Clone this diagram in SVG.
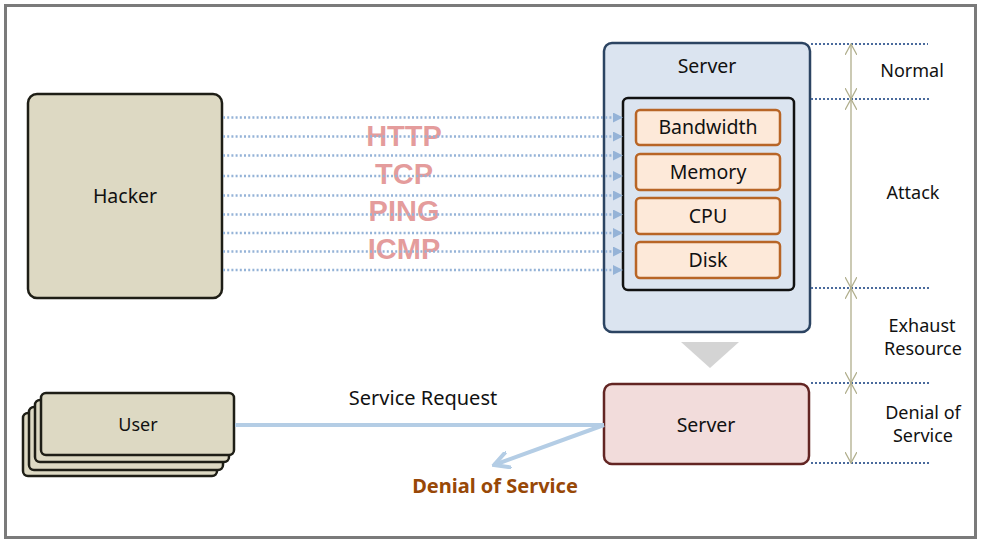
<svg xmlns="http://www.w3.org/2000/svg" width="981" height="543" viewBox="0 0 981 543">
<style>
text{font-family:"Noto Sans","Liberation Sans",sans-serif;fill:#111;text-anchor:middle}
.lbl{font-size:18px}
.big{font-size:19.5px}
.proto{font-family:"Liberation Sans",Arial,sans-serif;font-weight:bold;font-size:29px;fill:#e08a8a;fill-opacity:0.85}
.atk{stroke:#95b3d7;stroke-width:2.5;stroke-dasharray:2 2.2;fill:none}
.lvl{stroke:#4a6a9c;stroke-width:2;stroke-dasharray:2 2;fill:none}
.res{fill:#fde9d9;stroke:#b86526;stroke-width:2.5}
.usr{fill:#ddd9c3;stroke:#1e1e16;stroke-width:2.5}
</style>
<defs>
<marker id="ah" viewBox="0 0 10 10" refX="9" refY="5" markerWidth="10" markerHeight="10" markerUnits="userSpaceOnUse" orient="auto">
<path d="M0,0 L10,5 L0,10 z" fill="#95b3d7"/>
</marker>
<marker id="chev" viewBox="0 0 12 12" refX="11" refY="6" markerWidth="12" markerHeight="12" markerUnits="userSpaceOnUse" orient="auto-start-reverse">
<path d="M0,0 L11,6 L0,12" fill="none" stroke="#b0ae8c" stroke-width="1.3"/>
</marker>
<marker id="open" viewBox="0 0 16 16" refX="14" refY="8" markerWidth="18" markerHeight="18" markerUnits="userSpaceOnUse" orient="auto">
<path d="M1,1 L14,8 L1,15" fill="none" stroke="#b4cde5" stroke-width="3.5" stroke-linecap="round"/>
</marker>
</defs>
<rect x="0" y="0" width="981" height="543" fill="#fff"/>
<rect x="5.5" y="5.5" width="970" height="532" fill="#fff" stroke="#7a7a7a" stroke-width="3"/>

<g id="hacker">
<rect x="28" y="94" width="194" height="204" rx="9" fill="#ddd9c3" stroke="#1e1e16" stroke-width="2.5"/>
<text class="big" x="125" y="203">Hacker</text>
</g>

<g id="protocols">
<text class="proto" x="404" y="146">HTTP</text>
<text class="proto" x="404" y="184">TCP</text>
<text class="proto" x="404" y="221">PING</text>
<text class="proto" x="404" y="259">ICMP</text>
</g>

<g id="server-top">
<rect x="604" y="43" width="206" height="289" rx="8" fill="#dbe4f0" stroke="#2c4462" stroke-width="2.5"/>
<text class="big" x="707" y="73">Server</text>
<rect x="623" y="98" width="171" height="192" rx="5" fill="#dbe4f0" stroke="#111" stroke-width="2.5"/>
</g>
<g id="bandwidth"><rect class="res" x="636" y="110" width="144" height="35" rx="4"/><text class="big" x="708" y="134">Bandwidth</text></g>
<g id="memory"><rect class="res" x="636" y="154" width="144" height="36" rx="4"/><text class="big" x="708" y="179">Memory</text></g>
<g id="cpu"><rect class="res" x="636" y="198" width="144" height="36" rx="4"/><text class="big" x="708" y="223">CPU</text></g>
<g id="disk"><rect class="res" x="636" y="242" width="144" height="36" rx="4"/><text class="big" x="708" y="267">Disk</text></g>

<g id="server-bottom">
<rect x="604" y="384" width="205" height="80" rx="8" fill="#f2dcdb" stroke="#632523" stroke-width="2.5"/>
<text class="big" x="706" y="432">Server</text>
</g>

<g id="user">
<rect class="usr" x="23" y="413" width="194" height="63" rx="5"/>
<rect class="usr" x="29" y="407" width="194" height="63" rx="5"/>
<rect class="usr" x="35" y="400" width="194" height="62" rx="5"/>
<rect class="usr" x="41" y="393" width="193" height="62" rx="5"/>
<text x="138" y="431" style="font-size:18px">User</text>
</g>

<g id="connectors">
<line class="atk" x1="223" y1="117.5" x2="622" y2="117.5" marker-end="url(#ah)"/>
<line class="atk" x1="223" y1="136.5" x2="622" y2="136.5" marker-end="url(#ah)"/>
<line class="atk" x1="223" y1="155.5" x2="622" y2="155.5" marker-end="url(#ah)"/>
<line class="atk" x1="223" y1="176" x2="622" y2="176" marker-end="url(#ah)"/>
<line class="atk" x1="223" y1="195.5" x2="622" y2="195.5" marker-end="url(#ah)"/>
<line class="atk" x1="223" y1="214.5" x2="622" y2="214.5" marker-end="url(#ah)"/>
<line class="atk" x1="223" y1="233" x2="622" y2="233" marker-end="url(#ah)"/>
<line class="atk" x1="223" y1="251.5" x2="622" y2="251.5" marker-end="url(#ah)"/>
<line class="atk" x1="223" y1="270" x2="622" y2="270" marker-end="url(#ah)"/>
<line x1="235" y1="425" x2="604" y2="425" stroke="#b4cde5" stroke-width="4"/>
<line x1="604" y1="425" x2="494" y2="465" stroke="#b4cde5" stroke-width="4" marker-end="url(#open)"/>
<path d="M681,342 L739,342 L710,368 z" fill="#d4d4d4"/>
<line class="lvl" x1="811" y1="44" x2="928" y2="44"/>
<line class="lvl" x1="811" y1="99" x2="931" y2="99"/>
<line class="lvl" x1="811" y1="288" x2="930" y2="288"/>
<line class="lvl" x1="811" y1="383" x2="930" y2="383"/>
<line class="lvl" x1="811" y1="463" x2="930" y2="463"/>
<line x1="851" y1="44" x2="851" y2="99" stroke="#b0ae8c" stroke-width="1.3" marker-start="url(#chev)" marker-end="url(#chev)"/>
<line x1="851" y1="99" x2="851" y2="288" stroke="#b0ae8c" stroke-width="1.3" marker-start="url(#chev)" marker-end="url(#chev)"/>
<line x1="851" y1="288" x2="851" y2="383" stroke="#b0ae8c" stroke-width="1.3" marker-start="url(#chev)" marker-end="url(#chev)"/>
<line x1="851" y1="383" x2="851" y2="463" stroke="#b0ae8c" stroke-width="1.3" marker-start="url(#chev)" marker-end="url(#chev)"/>
</g>

<g id="labels">
<text x="423" y="405" style="font-size:20px">Service Request</text>
<text x="495" y="493" style="font-size:20px;font-weight:bold;fill:#984807">Denial of Service</text>
<text class="lbl" x="912" y="77">Normal</text>
<text class="lbl" x="913" y="199">Attack</text>
<text class="lbl" x="922" y="332">Exhaust</text>
<text class="lbl" x="923" y="355">Resource</text>
<text class="lbl" x="923" y="419">Denial of</text>
<text class="lbl" x="923" y="442">Service</text>
</g>
</svg>
